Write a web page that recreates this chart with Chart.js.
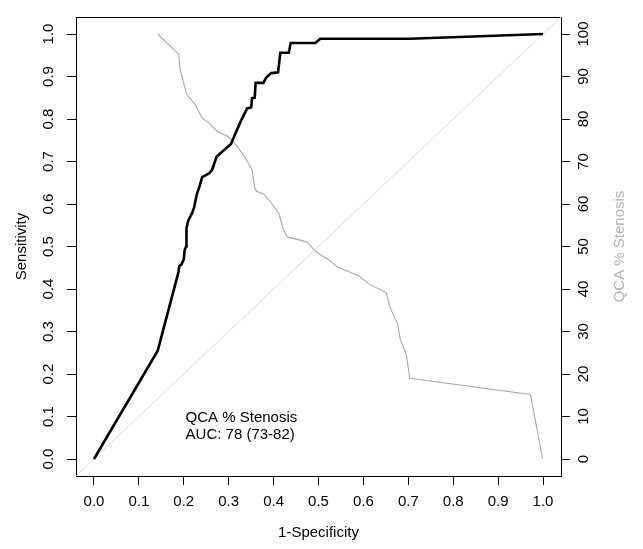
<!DOCTYPE html>
<html>
<head>
<meta charset="utf-8">
<script src="https://cdn.jsdelivr.net/npm/chart.js@4.4.1/dist/chart.umd.min.js"></script>
<style>
  html, body { margin: 0; padding: 0; background: #fff; }
  #wrap { width: 643px; height: 549px; }
</style>
</head>
<body>
<div id="wrap"><canvas id="roc-chart" width="643" height="549"></canvas></div>
<script>
// ROC curve (1-specificity vs sensitivity)
const rocFpr = [0, 0.142, 0.188, 0.190, 0.195, 0.200, 0.202, 0.205, 0.206, 0.210, 0.219, 0.223, 0.229, 0.234,
    0.241, 0.256, 0.263, 0.273, 0.305, 0.316, 0.327, 0.341, 0.350, 0.352, 0.358, 0.360, 0.377, 0.384,
    0.395, 0.410, 0.415, 0.434, 0.438, 0.493, 0.504, 0.704, 1.0];
const rocTpr = [0, 0.255, 0.439, 0.454, 0.458, 0.470, 0.492, 0.500, 0.543, 0.561, 0.580, 0.592, 0.623, 0.638,
    0.663, 0.672, 0.680, 0.711, 0.741, 0.768, 0.795, 0.825, 0.827, 0.849, 0.850, 0.885, 0.885, 0.898,
    0.908, 0.910, 0.956, 0.956, 0.979, 0.979, 0.989, 0.989, 1.0];

// cut-off (QCA % stenosis) along the curve, right axis
const cutFpr = [0.142, 0.189, 0.191, 0.206, 0.226, 0.241, 0.256, 0.275, 0.297, 0.312, 0.334, 0.352, 0.358,
    0.362, 0.378, 0.397, 0.412, 0.422, 0.431, 0.460, 0.475, 0.490, 0.504, 0.519, 0.542, 0.590, 0.612,
    0.651, 0.659, 0.671, 0.676, 0.682, 0.696, 0.703, 0.972, 0.999];
const cutPct = [100, 95.2, 92.1, 85.9, 83.3, 80.2, 79.1, 77.0, 76.0, 74.5, 71.4, 68.0, 63.8,
    63.0, 62.3, 60.0, 57.7, 53.9, 52.2, 51.5, 51.0, 49.2, 48.1, 47.2, 45.2, 43.1, 41.2,
    39.1, 35.8, 32.8, 32.0, 28.2, 24.4, 19.0, 15.2, 0];

// chance line y = x
const chanceX = [-1, 2];

const specTicks = [0, 0.1, 0.2, 0.3, 0.4, 0.5, 0.6, 0.7, 0.8, 0.9, 1.0];
const sensTicks = [0, 0.1, 0.2, 0.3, 0.4, 0.5, 0.6, 0.7, 0.8, 0.9, 1.0];
const pctTicks = [0, 10, 20, 30, 40, 50, 60, 70, 80, 90, 100];
const noteLines = ['QCA % Stenosis', 'AUC: 78 (73-82)'];

const FONT = { family: '"Liberation Sans", Arial, sans-serif', size: 15 };

function pairs(xs, ys) {
    return xs.map((x, i) => ({ x: x, y: ys[i] }));
}

function fixTicks(list) {
    return function (scale) {
        scale.ticks = list.map(v => ({ value: v }));
    };
}

const rAxisTitle = {
    id: 'rAxisTitle',
    afterDraw(chart) {
        const ctx = chart.ctx;
        const a = chart.chartArea;
        const xs = chart.scales.x;
        const ys = chart.scales.y;
        ctx.save();
        // right axis title, reading bottom to top
        ctx.font = FONT.size + 'px ' + FONT.family;
        ctx.fillStyle = '#b4b4b4';
        ctx.textAlign = 'center';
        ctx.textBaseline = 'middle';
        ctx.translate(620, (a.top + a.bottom) / 2);
        ctx.rotate(-Math.PI / 2);
        ctx.fillText('QCA % Stenosis', 0, 0);
        ctx.restore();

        // AUC note
        ctx.save();
        ctx.font = FONT.size + 'px ' + FONT.family;
        ctx.fillStyle = '#000';
        ctx.textAlign = 'left';
        ctx.textBaseline = 'middle';
        const nx = xs.getPixelForValue(0.204);
        ctx.fillText(noteLines[0], nx, ys.getPixelForValue(0.097));
        ctx.fillText(noteLines[1], nx, ys.getPixelForValue(0.056));
        ctx.restore();
    }
};

function d2c_rocChart() {
    const rocChart = document.getElementById('roc-chart');
    new Chart(rocChart, {
        type: 'line',
        data: {
            datasets: [{
                label: 'ROC',
                data: pairs(rocFpr, rocTpr),
                borderColor: '#000',
                borderWidth: 2.6,
                pointRadius: 0,
                tension: 0,
                xAxisID: 'x',
                yAxisID: 'y'
            }, {
                label: 'QCA % Stenosis',
                data: pairs(cutFpr, cutPct),
                borderColor: '#a8a8a8',
                borderWidth: 1.1,
                pointRadius: 0,
                tension: 0,
                xAxisID: 'x',
                yAxisID: 'y2'
            }, {
                label: 'chance',
                data: pairs(chanceX, chanceX),
                borderColor: '#dadada',
                borderWidth: 1,
                pointRadius: 0,
                xAxisID: 'x',
                yAxisID: 'y'
            }]
        },
        options: {
            responsive: false,
            animation: false,
            layout: { padding: 0 },
            plugins: {
                legend: { display: false },
                tooltip: { enabled: false }
            },
            scales: {
                x: {
                    type: 'linear',
                    position: 'bottom',
                    min: -0.04,
                    max: 1.04,
                    afterBuildTicks: fixTicks(specTicks),
                    afterFit: s => { s.height = 73; },
                    grid: { display: true, drawOnChartArea: false, color: '#000', tickLength: 9 },
                    border: { display: true, color: '#000', width: 1 },
                    ticks: {
                        font: FONT, color: '#000', padding: 8, maxRotation: 0, autoSkip: false,
                        callback: v => v.toFixed(1)
                    },
                    title: {
                        display: true, text: '1-Specificity', font: FONT, color: '#000',
                        padding: { top: 0, bottom: 7 }
                    }
                },
                x2: {
                    type: 'linear',
                    position: 'top',
                    min: -0.04,
                    max: 1.04,
                    afterFit: s => { s.height = 6; },
                    grid: { display: false, drawTicks: false },
                    border: { display: true, color: '#000', width: 1 },
                    ticks: { display: false }
                },
                y: {
                    type: 'linear',
                    position: 'left',
                    min: -0.04,
                    max: 1.04,
                    afterBuildTicks: fixTicks(sensTicks),
                    afterFit: s => { s.width = 76; },
                    grid: { display: true, drawOnChartArea: false, color: '#000', tickLength: 9 },
                    border: { display: true, color: '#000', width: 1 },
                    ticks: {
                        font: FONT, color: '#000', padding: 8, minRotation: 90, maxRotation: 90,
                        crossAlign: 'center', autoSkip: false,
                        callback: v => v.toFixed(1)
                    },
                    title: {
                        display: true, text: 'Sensitivity', font: FONT, color: '#000',
                        padding: { top: 13, bottom: 0 }
                    }
                },
                y2: {
                    type: 'linear',
                    position: 'right',
                    min: -4,
                    max: 104,
                    afterBuildTicks: fixTicks(pctTicks),
                    afterFit: s => { s.width = 82; },
                    grid: { display: true, drawOnChartArea: false, color: '#000', tickLength: 9 },
                    border: { display: true, color: '#000', width: 1 },
                    ticks: {
                        font: FONT, color: '#000', padding: 1, minRotation: 90, maxRotation: 90,
                        crossAlign: 'center', autoSkip: false,
                        callback: v => String(v)
                    }
                }
            }
        },
        plugins: [rAxisTitle]
    });
}d2c_rocChart();
</script>
</body>
</html>
